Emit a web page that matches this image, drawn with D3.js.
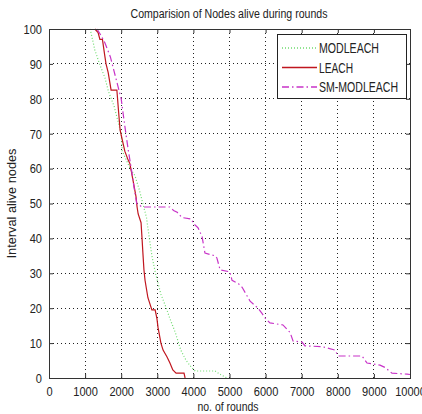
<!DOCTYPE html>
<html>
<head>
<meta charset="utf-8">
<script src="https://cdn.jsdelivr.net/npm/d3@7"></script>
<style>
body { margin: 0; background: #fff; }
svg text { font-family: "Liberation Sans", Arial, sans-serif; fill: #222; }
</style>
</head>
<body>
<svg id="chart" width="422" height="414"></svg>
<script>
var svg = d3.select("#chart")

// data: [rounds, nodes alive]
var modleach = [[1140,100],[1270,94],[1400,90],[1550,86],[1650,82],[1800,78],[1900,74],[2000,70],[2030,65],[2250,60],[2380,58],[2500,54],[2600,50],[2700,46],[2780,40],[2850,35],[2950,30],[3000,28],[3100,24],[3250,20],[3350,17],[3500,13],[3650,8],[3800,5],[3950,3],[4050,2],[4600,2],[4750,1],[4930,0]]
var leach = [[1270,100],[1360,99],[1410,97],[1480,97],[1550,92],[1580,90],[1640,87.5],[1720,82.5],[1880,82.5],[1930,76],[1970,71],[2100,65],[2190,62.5],[2240,61.5],[2330,56.5],[2410,52],[2440,49],[2470,47],[2550,44.5],[2580,39.5],[2600,36],[2630,31],[2660,28],[2740,23],[2850,19.5],[2940,19.5],[2990,17],[3020,14.5],[3100,10],[3160,8],[3270,6],[3350,4.3],[3430,2.3],[3520,1.4],[3740,1.4],[3770,0]]
var smModleach = [[1330,100],[1450,98],[1550,96],[1700,92],[1800,88],[1900,84],[2000,80],[2050,76],[2130,70],[2200,65],[2280,60],[2350,55],[2430,50],[2580,49],[3350,49],[3450,48],[3550,47.5],[3680,46],[3950,45.5],[3990,44.4],[4130,43],[4240,40.5],[4320,35.8],[4600,35],[4650,34.4],[4740,31],[5010,30.4],[5070,28],[5250,27],[5350,26],[5570,22],[5790,20],[5900,18.5],[6000,17],[6120,15.8],[6480,15.2],[6680,13],[6760,10.6],[7010,10.3],[7090,9.2],[7560,9],[7920,8],[8010,6.3],[8670,6.3],[8810,4.3],[9170,3.7],[9310,3],[9500,1.4],[9920,1.1],[10000,1]]

var seriesNames = ["MODLEACH", "LEACH", "SM-MODLEACH"]
var seriesColors = ["#6fdc6f", "#c0161f", "#c833c8"]
var seriesDash = ["1,2", null, "7,3,1.5,3"]
var xTicks = [0,1000,2000,3000,4000,5000,6000,7000,8000,9000,10000]
var yTicks = [0,10,20,30,40,50,60,70,80,90,100]

var plotL = 49, plotR = 410, plotT = 29, plotB = 378

var x = d3.scaleLinear().domain([0, 10000]).range([plotL, plotR])
var y = d3.scaleLinear().domain([0, 100]).range([plotB, plotT])

// grid
svg.append('g').selectAll('line').data(xTicks.slice(1, -1)).join('line')
    .attr('x1', d => x(d)).attr('x2', d => x(d))
    .attr('y1', plotT).attr('y2', plotB)
    .attr('stroke', '#222').attr('stroke-width', 1).attr('stroke-dasharray', '1,3')
    .attr('shape-rendering', 'crispEdges')
svg.append('g').selectAll('line').data(yTicks.slice(1, -1)).join('line')
    .attr('x1', plotL).attr('x2', plotR)
    .attr('y1', d => y(d)).attr('y2', d => y(d))
    .attr('stroke', '#222').attr('stroke-width', 1).attr('stroke-dasharray', '1,3')
    .attr('shape-rendering', 'crispEdges')

// curves
var line = d3.line().x(d => x(d[0])).y(d => y(d[1]))
var allData = [modleach, leach, smModleach]
svg.append('g').selectAll('path').data(allData).join('path')
    .attr('d', d => line(d))
    .attr('fill', 'none')
    .attr('stroke', (d, i) => seriesColors[i])
    .attr('stroke-width', 1.2)
    .attr('stroke-dasharray', (d, i) => seriesDash[i])

// axes with inward ticks on all four sides
var xAxis = d3.axisBottom(x).tickValues(xTicks).tickFormat(d3.format('d')).tickSizeInner(-4).tickSizeOuter(0).tickPadding(8)
var yAxis = d3.axisLeft(y).tickValues(yTicks).tickFormat(d3.format('d')).tickSizeInner(-4).tickSizeOuter(0).tickPadding(7)
var gx = svg.append('g').attr('transform', `translate(0,${plotB})`).call(xAxis)
var gy = svg.append('g').attr('transform', `translate(${plotL},0)`).call(yAxis)
svg.append('g').attr('transform', `translate(0,${plotT})`)
    .call(d3.axisTop(x).tickValues(xTicks).tickSizeInner(-4).tickSizeOuter(0).tickFormat(''))
svg.append('g').attr('transform', `translate(${plotR},0)`)
    .call(d3.axisRight(y).tickValues(yTicks).tickSizeInner(-4).tickSizeOuter(0).tickFormat(''))
svg.selectAll('.domain').remove()
svg.selectAll('.tick line').attr('stroke', '#333')
svg.selectAll('g').attr('font-family', null)
// narrow looking labels like the original
gx.selectAll('text').attr('font-size', 13.5).attr('transform', 'scale(0.82,1)')
gy.selectAll('text').attr('font-size', 13.5).attr('x', -7 / 0.82).attr('transform', 'scale(0.82,1)')

svg.append('rect')
    .attr('x', plotL).attr('y', plotT)
    .attr('width', plotR - plotL).attr('height', plotB - plotT)
    .attr('fill', 'none').attr('stroke', '#333').attr('stroke-width', 1)
    .attr('shape-rendering', 'crispEdges')

// titles
svg.append('text').attr('x', 229).attr('y', 18).attr('text-anchor', 'middle')
    .attr('font-size', 12).attr('textLength', 197).attr('lengthAdjust', 'spacingAndGlyphs')
    .text('Comparision of Nodes alive during rounds')
svg.append('text').attr('x', 228).attr('y', 411).attr('text-anchor', 'middle')
    .attr('font-size', 12).attr('textLength', 61).attr('lengthAdjust', 'spacingAndGlyphs')
    .text('no. of rounds')
svg.append('text').attr('transform', `translate(16,${(plotT + plotB) / 2}) rotate(-90)`)
    .attr('text-anchor', 'middle').attr('font-size', 12)
    .attr('textLength', 110).attr('lengthAdjust', 'spacingAndGlyphs')
    .text('Interval alive nodes')

// legend
var legendWidths = [60, 34, 79]
var legend = svg.append('g')
legend.append('rect').attr('x', 277).attr('y', 34).attr('width', 129).attr('height', 64)
    .attr('fill', '#fff').attr('stroke', '#222').attr('shape-rendering', 'crispEdges')
var items = legend.selectAll('.item').data(seriesNames).join('g').attr('class', 'item')
    .attr('transform', (d, i) => `translate(0,${48 + i * 19.5})`)
items.append('line').attr('x1', 282).attr('x2', 317)
    .attr('stroke', (d, i) => seriesColors[i])
    .attr('stroke-width', 1.3)
    .attr('stroke-dasharray', (d, i) => seriesDash[i])
items.append('text').attr('x', 319).attr('y', 5).attr('font-size', 14)
    .attr('textLength', (d, i) => legendWidths[i]).attr('lengthAdjust', 'spacingAndGlyphs')
    .text(d => d)
</script>
</body>
</html>
